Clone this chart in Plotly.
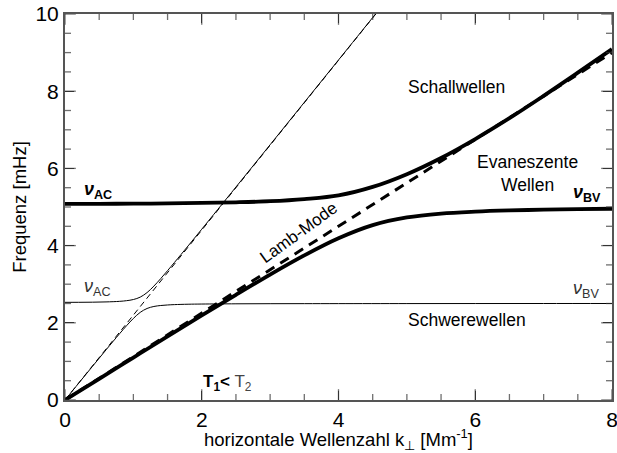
import plotly.graph_objects as go

# horizontal wavenumber samples (Mm^-1)
k_thick = [0, 0.5, 1, 1.5, 2, 2.5, 3, 3.5, 4, 4.5, 5, 5.5, 6, 6.5, 7, 7.5, 8]
# T2 (hot): acoustic branch and gravity branch (mHz)
nu_up_T2 = [5.08, 5.082, 5.086, 5.094, 5.105, 5.122, 5.15, 5.205, 5.30, 5.52,
            5.85, 6.27, 6.76, 7.30, 7.88, 8.48, 9.09]
nu_lo_T2 = [0.0, 0.550, 1.099, 1.647, 2.190, 2.726, 3.250, 3.747, 4.19, 4.53,
            4.73, 4.83, 4.88, 4.91, 4.93, 4.945, 4.955]
# Lamb mode T2
k_lamb2 = [0, 8]
nu_lamb2 = [0, 9.0]

# T1 (cool)
k_up_T1 = [0, 0.2, 0.4, 0.6, 0.8, 0.9, 1.0, 1.1, 1.2, 1.3, 1.4, 1.5, 1.6, 1.8, 2.0,
           2.5, 3.0, 3.5, 4.0, 4.5, 4.6]
nu_up_T1 = [2.53, 2.531, 2.534, 2.541, 2.556, 2.573, 2.603, 2.665, 2.783, 2.951, 3.145,
            3.351, 3.562, 3.991, 4.425, 5.517, 6.613, 7.711, 8.809, 9.908, 10.128]
k_lo_T1 = [0, 0.2, 0.4, 0.6, 0.8, 0.9, 1.0, 1.1, 1.2, 1.3, 1.4, 1.5, 1.6, 1.8, 2.0,
           2.5, 3.0, 3.5, 4.0, 5.0, 6.0, 7.0, 8.0]
nu_lo_T1 = [0, 0.435, 0.868, 1.299, 1.721, 1.924, 2.113, 2.270, 2.371, 2.423, 2.448,
            2.462, 2.471, 2.481, 2.486, 2.492, 2.495, 2.496, 2.497, 2.498, 2.499, 2.5, 2.5]
k_lamb1 = [0, 4.6]
nu_lamb1 = [0, 10.12]

# axis ticks
x_major = [0, 2, 4, 6, 8]
y_major = [0, 2, 4, 6, 8, 10]
x_minor = [0.5, 1, 1.5, 2.5, 3, 3.5, 4.5, 5, 5.5, 6.5, 7, 7.5]
y_minor = [0.5, 1, 1.5, 2.5, 3, 3.5, 4.5, 5, 5.5, 6.5, 7, 7.5, 8.5, 9, 9.5]
X_MIN, X_MAX, Y_MIN, Y_MAX = 0, 8, 0, 10

W, H = 617, 453
M = dict(l=65, r=5, t=14, b=53)
px_x = (X_MAX - X_MIN) / (W - M["l"] - M["r"])   # data units per pixel
px_y = (Y_MAX - Y_MIN) / (H - M["t"] - M["b"])
MAJ, MIN = 9, 5

fig = go.Figure()
thin = dict(color="black", width=1)
thick = dict(color="black", width=3.8)
fig.add_trace(go.Scatter(x=k_lamb1, y=nu_lamb1, mode="lines",
                         line=dict(color="black", width=1, dash="6px,4px")))
fig.add_trace(go.Scatter(x=k_up_T1, y=nu_up_T1, mode="lines", line=dict(thin, shape="spline")))
fig.add_trace(go.Scatter(x=k_lo_T1, y=nu_lo_T1, mode="lines", line=dict(thin, shape="spline")))
fig.add_trace(go.Scatter(x=k_thick, y=nu_up_T2, mode="lines", line=dict(thick, shape="spline")))
fig.add_trace(go.Scatter(x=k_thick, y=nu_lo_T2, mode="lines", line=dict(thick, shape="spline")))
fig.add_trace(go.Scatter(x=k_lamb2, y=nu_lamb2, mode="lines",
                         line=dict(color="black", width=3, dash="10px,7px")))

# tick marks as line-shaped markers centred half a tick length inside each side
mx, my, ms, msym = [], [], [], []
for vals, L in ((x_major, MAJ), (x_minor, MIN)):
    for v in vals:
        mx += [v, v]
        my += [Y_MIN + L / 2 * px_y, Y_MAX - L / 2 * px_y]
        ms += [L, L]
        msym += ["line-ns", "line-ns"]
for vals, L in ((y_major, MAJ), (y_minor, MIN)):
    for v in vals:
        my += [v, v]
        mx += [X_MIN + L / 2 * px_x, X_MAX - L / 2 * px_x]
        ms += [L, L]
        msym += ["line-ew", "line-ew"]
fig.add_trace(go.Scatter(x=mx, y=my, mode="markers", cliponaxis=False, hoverinfo="skip",
                         marker=dict(symbol=msym, size=ms, color="#333",
                                     line=dict(color="#333", width=1.3))))

font = "Liberation Sans, Arial, sans-serif"
ann = []
def A(x, y, t, size=17.5, angle=0, xanchor="center", color="black"):
    ann.append(dict(x=x, y=y, xref="x", yref="y", text=t, showarrow=False,
                    font=dict(family=font, size=size, color=color),
                    textangle=angle, xanchor=xanchor, yanchor="middle"))

A(0.48, 5.42, "<b><i>ν</i><sub>AC</sub></b>", size=18)
A(0.48, 2.92, "<i>ν</i><sub>AC</sub>", size=18, color="#333")
A(7.64, 5.36, "<b><i>ν</i><sub>BV</sub></b>", size=18)
A(7.62, 2.87, "<i>ν</i><sub>BV</sub>", size=18, color="#333")
A(5.72, 8.12, "Schallwellen")
A(6.0, 5.87, "Evaneszente<br>Wellen", xanchor="left")
A(5.88, 2.07, "Schwerewellen")
A(3.42, 4.35, "Lamb-Mode", angle=-36, size=17)
A(2.38, 0.45, "<b>T<sub>1</sub><</b> <span style='color:#444'>T<sub>2</sub></span>", size=17)

tickfont = dict(family=font, size=21, color="black")
axis_common = dict(ticks="inside", ticklen=MAJ, tickwidth=1.2, tickcolor="#333",
                   showline=True, linecolor="#555", linewidth=2, mirror="ticks",
                   showgrid=False, zeroline=False, tickfont=tickfont, tickmode="array",
                   automargin=False, ticklabeloverflow="allow")
fig.update_layout(
    width=W, height=H, paper_bgcolor="white", plot_bgcolor="white",
    margin=M, showlegend=False,
    annotations=ann,
    xaxis=dict(axis_common, range=[X_MIN, X_MAX], tickvals=x_major,
               title=dict(text="horizontale Wellenzahl k<sub>⊥</sub> [Mm<sup>-1</sup>]",
                          font=dict(family=font, size=18.5, color="black"), standoff=0)),
    yaxis=dict(axis_common, range=[Y_MIN, Y_MAX], tickvals=y_major,
               title=dict(text="Frequenz [mHz]", font=dict(family=font, size=18.5, color="black"),
                          standoff=4)),
)
fig.write_html("out.html")
